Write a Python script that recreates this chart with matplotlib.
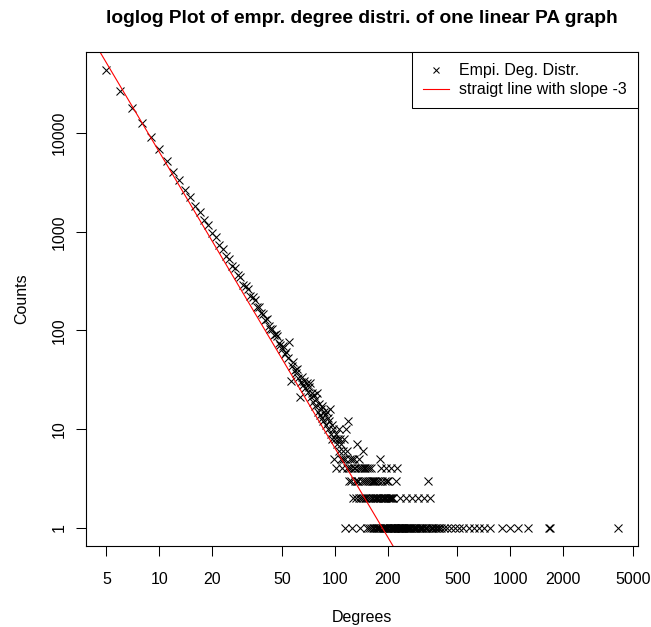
import numpy as np
import matplotlib
matplotlib.use("Agg")
import matplotlib.pyplot as plt

# degrees 5..240, one count per degree (0 = degree not seen)
first_degree = 5
counts = [
    43450, 26850, 18020, 12710, 9185, 6880, 5245, 4090, 3370, 2650,
    2255, 1840, 1590, 1312, 1168, 970, 880, 734, 672, 570,
    531, 447, 428, 366, 349, 291, 284, 262, 224, 219,
    203, 171, 174, 149, 147, 127, 131, 110, 104, 103,
    89, 91, 88, 74, 72, 65, 70, 58, 61, 52,
    77, 31, 44, 48, 40, 37,
    # 61..100
    41, 33, 21, 30, 34, 28, 31, 26, 29, 24,
    27, 29, 21, 23, 19, 22, 17, 20, 23, 15,
    18, 14, 16, 13, 17, 12, 15, 14, 11, 15,
    13, 10, 12, 16, 9, 11, 8, 10, 5, 8,
    # 101..140
    9, 4, 7, 8, 10, 6, 8, 5, 7, 4,
    6, 5, 8, 1, 5, 10, 4, 6, 12, 3,
    4, 5, 4, 3, 5, 1, 2, 4, 5, 3,
    4, 2, 7, 3, 4, 3, 2, 5, 1, 4,
    # 141..180
    2, 4, 3, 2, 6, 4, 3, 2, 4, 2,
    3, 1, 4, 2, 3, 1, 4, 2, 3, 4,
    1, 3, 2, 3, 1, 2, 3, 1, 2, 3,
    1, 2, 1, 3, 2, 1, 2, 3, 1, 2,
    # 181..240
    5, 1, 2, 4, 1, 3, 2, 1, 0, 2,
    1, 3, 1, 2, 1, 4, 2, 1, 3, 2,
    3, 1, 0, 2, 1, 2, 1, 4, 1, 2,
    0, 1, 2, 1, 2, 1, 0, 1, 1, 0,
    1, 1, 0, 3, 4, 1, 0, 1, 1, 0,
    1, 0, 1, 1, 2, 0, 1, 1, 0, 1,
]

# sparse tail beyond degree 240
tail_deg_3 = [340]
tail_deg_2 = [256, 276, 299, 323, 348]
tail_deg_1 = [243, 246, 249, 251, 254, 258, 261, 263, 267, 270,
              272, 279, 283, 286, 291, 294, 302, 306, 311, 315,
              319, 327, 331, 336, 344, 352, 358, 365, 371, 379,
              386, 394, 402, 418, 436, 458, 485, 512, 541, 580,
              618, 667, 712, 762, 900, 990, 1104, 1257, 1665, 1680,
              4083]

slope = -3
intercept = 6.81  # log10 scale

xticks = [5, 10, 20, 50, 100, 200, 500, 1000, 2000, 5000]
yticks = [1, 10, 100, 1000, 10000]

deg = np.arange(first_degree, first_degree + len(counts))
cnt = np.array(counts)
keep = cnt > 0
deg = np.concatenate([deg[keep], tail_deg_3, tail_deg_2, tail_deg_1])
cnt = np.concatenate([cnt[keep], [3] * len(tail_deg_3), [2] * len(tail_deg_2),
                      [1] * len(tail_deg_1)])

plt.rcParams['font.family'] = ['Liberation Sans', 'DejaVu Sans']
plt.rcParams['font.size'] = 11.5

fig = plt.figure(figsize=(6.51, 6.27), dpi=100)
ax = fig.add_axes([86 / 651, 1 - 546 / 627, (638 - 86) / 651, (546 - 52) / 627])

ax.plot(deg, cnt, 'x', color='black', markersize=5.4, markeredgewidth=0.75,
        label='Empi. Deg. Distr.')
ax.set_xscale('log')
ax.set_yscale('log')

# R style limits: data range + 4% on each side (log scale)
lx = np.log10([deg.min(), deg.max()])
ly = np.log10([cnt.min(), cnt.max()])
dx = 0.04 * (lx[1] - lx[0])
dy = 0.04 * (ly[1] - ly[0])
ax.set_xlim(10 ** (lx[0] - dx), 10 ** (lx[1] + dx))
ax.set_ylim(10 ** (ly[0] - dy), 10 ** (ly[1] + dy))

ax.axline((1, 10 ** intercept), (10, 10 ** (intercept + slope)), color='red',
          linewidth=0.8, label='straigt line with slope -3')

ax.minorticks_off()
ax.set_xticks(xticks)
ax.set_xticklabels([str(t) for t in xticks])
ax.set_yticks(yticks)
ax.set_yticklabels([str(t) for t in yticks])
plt.setp(ax.get_yticklabels(), rotation=90, va='center')
ax.tick_params(axis='both', direction='out', length=6.9, width=0.75,
               color='black')
ax.tick_params(axis='x', pad=11.6)
ax.tick_params(axis='y', pad=6.7)
for sp in ax.spines.values():
    sp.set_linewidth(0.8)
    sp.set_color('black')

ax.set_xlabel('Degrees', labelpad=16.5)
ax.set_ylabel('Counts', labelpad=16.4)
ax.set_title('loglog Plot of empr. degree distri. of one linear PA graph',
             fontsize=13.8, fontweight='bold', pad=21)

leg = ax.legend(loc='upper right', borderaxespad=0, fancybox=False,
                edgecolor='black', framealpha=1, handlelength=1.6,
                handletextpad=0.65, borderpad=0.7, labelspacing=0.25,
                markerscale=0.7)
leg.get_frame().set_linewidth(0.75)

fig.savefig('out.png', dpi=100)
